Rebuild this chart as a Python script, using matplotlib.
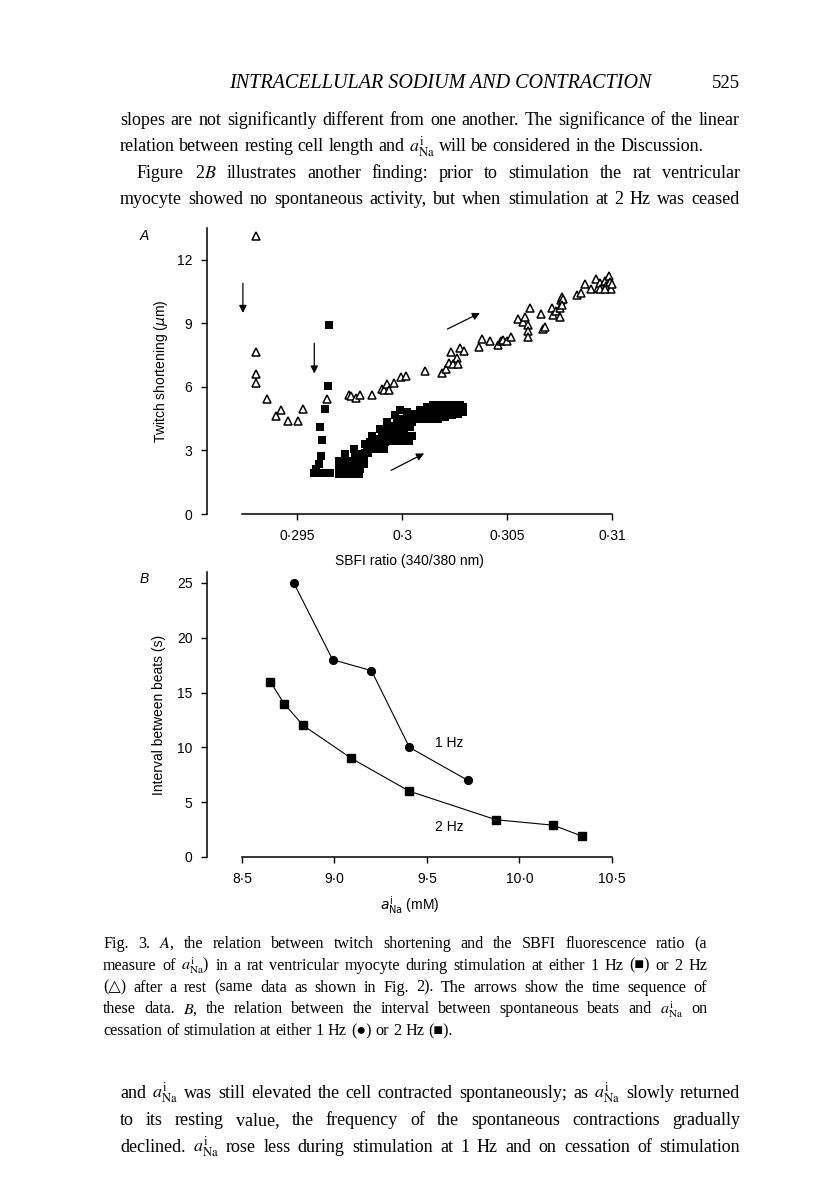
import matplotlib
matplotlib.use('Agg')
import numpy as np
import matplotlib.pyplot as plt

W, H = 816, 1177

# ---- panel A : twitch shortening vs SBFI ratio ----
# 2 Hz (open triangles)
tri_x = [0.29304, 0.29305, 0.29305, 0.29305, 0.29357, 0.29399, 0.29424, 0.29456, 0.29506, 0.29527,
         0.29643, 0.29746, 0.29757, 0.29779, 0.29801, 0.29858, 0.29904, 0.29912, 0.29928, 0.29937,
         0.29963, 0.29996, 0.30020, 0.30107, 0.30189, 0.30210, 0.30225, 0.30232, 0.30244, 0.30263,
         0.30268, 0.30276, 0.30297, 0.30365, 0.30379, 0.30419, 0.30455, 0.30469, 0.30482, 0.30500,
         0.30519, 0.30550, 0.30577, 0.30585, 0.30601, 0.30601, 0.30598, 0.30609, 0.30664, 0.30672,
         0.30680, 0.30712, 0.30720, 0.30732, 0.30751, 0.30751, 0.30756, 0.30762, 0.30767, 0.30762,
         0.30831, 0.30851, 0.30870, 0.30902, 0.30922, 0.30934, 0.30945, 0.30954, 0.30965, 0.30973,
         0.30986, 0.30989, 0.30997, 0.31000, 0.30945, 0.30965]
tri_y = [13.14, 7.67, 6.63, 6.16, 5.43, 4.62, 4.92, 4.41, 4.41, 4.95,
         5.43, 5.63, 5.57, 5.48, 5.63, 5.63, 5.92, 5.84, 6.13, 5.84,
         6.17, 6.46, 6.52, 6.76, 6.65, 6.84, 7.11, 7.67, 7.06, 7.35,
         7.06, 7.83, 7.70, 7.90, 8.27, 8.17, 7.98, 8.17, 8.22, 8.17,
         8.35, 9.22, 9.06, 9.29, 8.90, 8.62, 8.35, 9.73, 9.44, 8.73,
         8.81, 9.73, 9.41, 9.60, 9.32, 9.73, 10.08, 10.24, 10.13, 9.86,
         10.32, 10.44, 10.84, 10.63, 11.08, 10.68, 10.92, 10.68, 11.00, 10.76,
         11.24, 10.97, 10.60, 10.84, 10.60, 10.60]

# 1 Hz (filled squares)
sq_x = [0.29652, 0.29647, 0.29631, 0.29611, 0.29619, 0.29616, 0.29605, 0.29590, 0.29580, 0.29604,
        0.29627, 0.29655,
        0.29698, 0.29730, 0.29761, 0.29793, 0.29801, 0.29698, 0.29698, 0.29730, 0.29730, 0.29761,
        0.29761, 0.29793, 0.29785, 0.29817, 0.29817, 0.29833, 0.29848, 0.29888, 0.29912, 0.29848,
        0.29880, 0.29904, 0.29936, 0.29967, 0.29999, 0.30031, 0.30046, 0.29912, 0.29944, 0.29975,
        0.30007, 0.30039, 0.29944, 0.29975, 0.30007, 0.30039, 0.30078, 0.30110, 0.30142, 0.30173,
        0.30205, 0.30237, 0.30268, 0.30292, 0.30023, 0.30054, 0.30086, 0.30118, 0.30149, 0.30181,
        0.30213, 0.30244, 0.30276, 0.30292, 0.29730, 0.29769, 0.29825, 0.29856, 0.29896, 0.29928,
        0.29967, 0.29991,
        0.29714, 0.29746, 0.29777, 0.29714, 0.29746, 0.29777, 0.29777, 0.29809, 0.29825, 0.29840,
        0.29864, 0.29864, 0.29880, 0.29896, 0.29896, 0.29920, 0.29920, 0.29936, 0.29952, 0.29959,
        0.29983, 0.29983, 0.29991, 0.30015, 0.30015, 0.30023, 0.30046, 0.30062, 0.30070, 0.30094,
        0.30102, 0.30126, 0.30134, 0.30157, 0.30165, 0.30189, 0.30197, 0.30221, 0.30229, 0.30252,
        0.30260, 0.30284]
sq_y = [8.90, 6.03, 4.97, 4.10, 3.49, 2.75, 2.35, 2.11, 1.95, 1.92,
        1.92, 1.92,
        1.87, 1.87, 1.87, 1.87, 2.11, 2.19, 2.51, 2.19, 2.51, 2.19,
        2.51, 2.35, 2.83, 2.35, 2.67, 3.06, 3.06, 3.06, 3.06, 3.38,
        3.54, 3.70, 3.46, 3.46, 3.46, 3.46, 3.70, 4.02, 4.17, 4.33,
        4.49, 4.57, 3.86, 3.86, 3.86, 4.10, 4.49, 4.49, 4.49, 4.49,
        4.57, 4.65, 4.73, 4.81, 4.81, 4.73, 4.89, 5.05, 5.13, 5.13,
        5.13, 5.16, 5.13, 5.05, 2.83, 3.06, 3.30, 3.70, 4.02, 4.33,
        4.65, 4.89,
        2.03, 2.03, 2.03, 2.35, 2.35, 2.19, 2.67, 2.51, 2.90, 2.90,
        3.06, 3.30, 3.22, 3.38, 3.06, 3.38, 3.70, 3.86, 3.62, 4.10,
        3.62, 4.17, 4.49, 3.62, 4.17, 4.65, 4.33, 4.49, 4.73, 4.57,
        4.81, 4.65, 4.97, 4.73, 5.05, 4.73, 4.97, 4.81, 5.05, 4.89,
        5.05, 4.97]

# arrows (start, end) showing time sequence
arrows_a = [((0.29242, 10.89), (0.29242, 9.49)),
            ((0.29582, 8.06), (0.29582, 6.63)),
            ((0.30216, 8.73), (0.30371, 9.49)),
            ((0.29948, 2.06), (0.30105, 2.86))]

a_xticks = [0.295, 0.3, 0.305, 0.31]
a_xlabels = ['0·295', '0·3', '0·305', '0·31']
a_yticks = [0, 3, 6, 9, 12]

# ---- panel B : interval between beats vs aNa ----
hz1_x = [8.78, 8.99, 9.20, 9.405, 9.72]
hz1_y = [25, 18, 17, 10, 7]
hz2_x = [8.653, 8.727, 8.831, 9.091, 9.405, 9.873, 10.183, 10.338]
hz2_y = [16, 14, 12, 9, 6, 3.4, 2.9, 1.9]
b_xticks = [8.5, 9.0, 9.5, 10.0, 10.5]
b_xlabels = ['8·5', '9·0', '9·5', '10·0', '10·5']
b_yticks = [0, 5, 10, 15, 20, 25]

# ---- page text ----
header = 'INTRACELLULAR SODIUM AND CONTRACTION'
page_no = '525'
ana = r'$a^{\mathrm{i}}_{\mathrm{Na}}$'
top_lines = [
    ('slopes are not significantly different from one another. The significance of the linear', 120, True),
    ('relation between resting cell length and ' + ana + ' will be considered in the Discussion.', 120, False),
    (r'Figure 2$B$ illustrates another finding: prior to stimulation the rat ventricular', 137, True),
    ('myocyte showed no spontaneous activity, but when stimulation at 2 Hz was ceased', 120, True),
]
caption_lines = [
    (r'Fig. 3. $A$, the relation between twitch shortening and the SBFI fluorescence ratio (a', True),
    ('measure of ' + ana + ') in a rat ventricular myocyte during stimulation at either 1 Hz (■) or 2 Hz', True),
    ('(△) after a rest (same data as shown in Fig. 2). The arrows show the time sequence of', True),
    (r'these data. $B$, the relation between the interval between spontaneous beats and ' + ana + ' on', True),
    ('cessation of stimulation at either 1 Hz (●) or 2 Hz (■).', False),
]
bottom_lines = [
    'and ' + ana + ' was still elevated the cell contracted spontaneously; as ' + ana + ' slowly returned',
    'to its resting value, the frequency of the spontaneous contractions gradually',
    'declined. ' + ana + ' rose less during stimulation at 1 Hz and on cessation of stimulation',
]

plt.rcParams['font.family'] = ['Liberation Sans', 'DejaVu Sans']
fig = plt.figure(figsize=(W / 100, H / 100), dpi=100)
fig.patch.set_facecolor('white')


def fx(px):
    return px / W


def fy(py):
    return 1 - py / H


def style_axes(ax):
    for s in ['top', 'right']:
        ax.spines[s].set_visible(False)
    for s in ['left', 'bottom']:
        ax.spines[s].set_linewidth(1.1)
    ax.tick_params(direction='out', length=4.5, width=1.0, pad=6, labelsize=10)


# panel A
axA = fig.add_axes([fx(207), fy(514), fx(612) - fx(207), (514 - 228) / H])
axA.set_xlim(0.29071, 0.31)
axA.set_ylim(0, 13.5)
axA.plot(sq_x, sq_y, 's', color='black', ms=5.8, mew=0, clip_on=False)
axA.plot(tri_x, tri_y, '^', mfc='white', mec='black', ms=5.2, mew=1.1, clip_on=False)
for (x0, y0), (x1, y1) in arrows_a:
    axA.annotate('', xy=(x1, y1), xytext=(x0, y0),
                 arrowprops=dict(arrowstyle='-|>', color='black', lw=0.9,
                                 mutation_scale=11, shrinkA=0, shrinkB=0))
style_axes(axA)
axA.spines['bottom'].set_bounds(0.29238, 0.31)
axA.set_xticks(a_xticks)
axA.set_xticklabels(a_xlabels)
axA.set_yticks(a_yticks)
axA.set_xlabel('SBFI ratio (340/380 nm)', fontsize=10, labelpad=8)
axA.set_ylabel(r'Twitch shortening ($\mu$m)', fontsize=10, labelpad=5,
               math_fontfamily='dejavusans')
fig.text(fx(140), fy(240), 'A', fontsize=10, style='italic')

# panel B
axB = fig.add_axes([fx(207), fy(857), fx(612) - fx(207), (857 - 572) / H])
axB.set_xlim(8.311, 10.5)
axB.set_ylim(0, 26)
axB.plot(hz1_x, hz1_y, '-o', color='black', lw=0.8, ms=5.6, clip_on=False)
axB.plot(hz2_x, hz2_y, '-s', color='black', lw=0.8, ms=5.8, clip_on=False)
axB.text(9.62, 10.4, '1 Hz', fontsize=10, ha='center', va='center')
axB.text(9.62, 2.74, '2 Hz', fontsize=10, ha='center', va='center')
style_axes(axB)
axB.spines['bottom'].set_bounds(8.5, 10.5)
axB.set_xticks(b_xticks)
axB.set_xticklabels(b_xlabels)
axB.set_yticks(b_yticks)
axB.set_xlabel(ana + ' (mM)', fontsize=10, labelpad=6, math_fontfamily='dejavusans')
axB.set_ylabel('Interval between beats (s)', fontsize=10, labelpad=8)
fig.text(fx(140), fy(583), 'B', fontsize=10, style='italic')

# page text, justified word by word
renderer = fig.canvas.get_renderer()
serif = ['Liberation Serif', 'DejaVu Sans']


def place_line(text, x0, x1, y, size, justify):
    words = text.split(' ')
    arts = [fig.text(0, fy(y), w, fontsize=size, va='baseline', ha='left',
                     family=serif, math_fontfamily='stix') for w in words]
    widths = [a.get_window_extent(renderer).width for a in arts]
    space = size * 0.25 * 100 / 72
    if justify and len(words) > 1:
        gap = max((x1 - x0 - sum(widths)) / (len(words) - 1), space * 0.6)
    else:
        gap = space
    x = x0
    for a, w in zip(arts, widths):
        a.set_x(fx(x))
        x += w + gap


fig.text(fx(440), fy(88), header, fontsize=14.5, style='italic', family=serif,
         ha='center', va='baseline')
fig.text(fx(740), fy(88), page_no, fontsize=13.5, family=serif, ha='right', va='baseline')

for i, (t, xs, j) in enumerate(top_lines):
    place_line(t, xs, 740, 125 + i * 26.3, 13, j)
for i, (t, j) in enumerate(caption_lines):
    place_line(t, 103, 707, 948 + i * 21.8, 11.6, j)
for i, t in enumerate(bottom_lines):
    place_line(t, 120, 740, 1098 + i * 27, 13, True)

fig.savefig('out.png', dpi=100)
